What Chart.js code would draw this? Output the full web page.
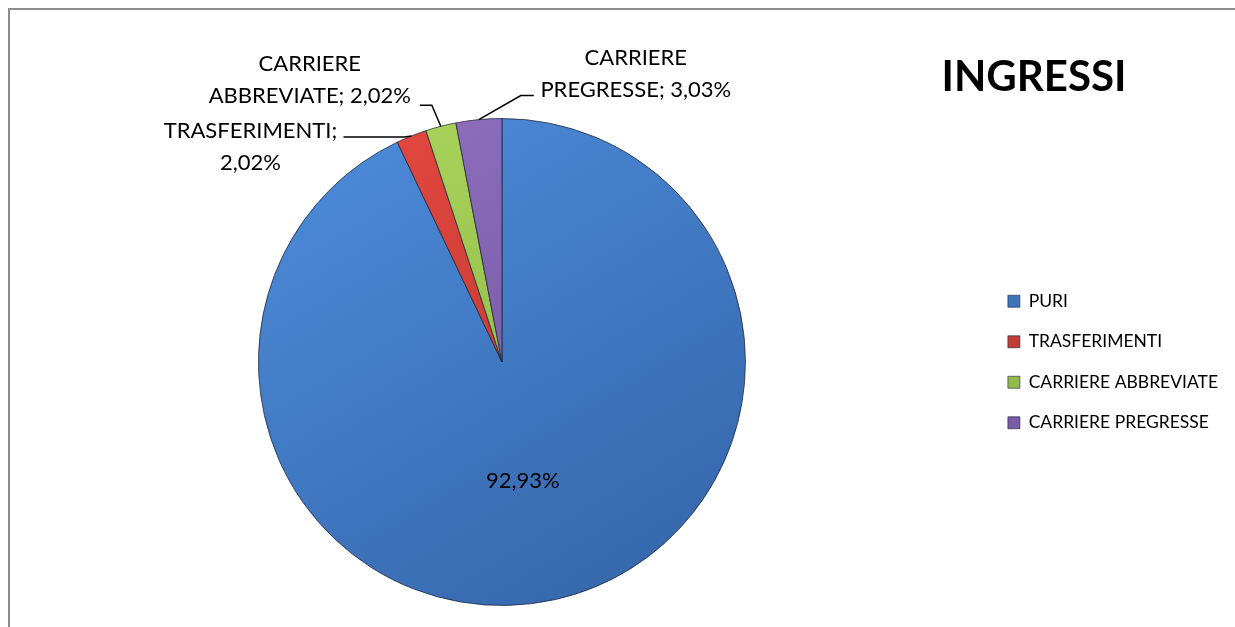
<!DOCTYPE html>
<html>
<head>
<meta charset="utf-8">
<script src="https://cdn.jsdelivr.net/npm/chart.js@4.4.1/dist/chart.umd.min.js"></script>
<style>
  html, body { margin: 0; padding: 0; background: #fff; overflow: hidden; }
  #chartBox { position: absolute; left: 0; top: 0; width: 1235px; height: 627px; }
</style>
</head>
<body>
<div id="chartBox"><canvas id="ingressiChart" width="1235" height="627"></canvas></div>
<script>
// data
const categories = ['PURI', 'TRASFERIMENTI', 'CARRIERE ABBREVIATE', 'CARRIERE PREGRESSE'];
const percentages = [92.93, 2.02, 2.02, 3.03];
const titleText = 'INGRESSI';

// styling (light / dark end of each slice gradient)
const sliceColors = [
  ['#4c8ad8', '#3566ab'],
  ['#e4483f', '#b3342e'],
  ['#aad55c', '#86ad3f'],
  ['#9070bf', '#6c4e95']
];
const legendColors = ['#3f74b9', '#c03c36', '#92bb4b', '#7a5ca6'];

// callout offsets, relative to the outer middle point of each slice
const calloutLayout = [
  null,
  { elbow: [-7, 1], endX: -68, text: [-161, -5.5] },
  { elbow: [-9, -21], endX: -21, text: [-131, -62] },
  { elbow: [42, -24], endX: 55, text: [157, -61.6] }
];
const labelLineGap = 32;

function fmtPct(v) {
  return v.toFixed(2).replace('.', ',') + '%';
}

function sliceFill(c) {
  const chart = c.chart;
  const area = chart.chartArea;
  const pair = sliceColors[c.dataIndex];
  if (!area) return pair[0];
  const cx = (area.left + area.right) / 2;
  const cy = (area.top + area.bottom) / 2;
  const r = Math.min(area.right - area.left, area.bottom - area.top) / 2;
  const g = chart.ctx.createLinearGradient(cx - r * 0.6, cy - r, cx + r * 0.6, cy + r);
  g.addColorStop(0, pair[0]);
  g.addColorStop(1, pair[1]);
  return g;
}

const framePlugin = {
  id: 'frame',
  beforeDraw(chart) {
    const { ctx, width, height } = chart;
    ctx.save();
    ctx.fillStyle = '#8c8c8c';
    ctx.fillRect(8, 8, width - 8, 2);
    ctx.fillRect(8, 8, 2, height - 8);
    ctx.restore();
  },
  afterDraw(chart) {
    const { ctx } = chart;
    ctx.save();
    ctx.font = 'bold 42px Lato';
    ctx.fillStyle = '#000';
    ctx.textAlign = 'center';
    ctx.textBaseline = 'middle';
    ctx.fillText(titleText, 1034, 77);
    ctx.restore();
  }
};

const calloutPlugin = {
  id: 'callouts',
  afterDatasetsDraw(chart) {
    const { ctx } = chart;
    const meta = chart.getDatasetMeta(0);
    ctx.save();
    ctx.font = '22px Lato';
    ctx.fillStyle = '#000';
    ctx.strokeStyle = '#000';
    ctx.lineWidth = 1.5;
    ctx.textAlign = 'center';
    ctx.textBaseline = 'middle';
    meta.data.forEach((arc, i) => {
      const { x, y, startAngle, endAngle, outerRadius } =
        arc.getProps(['x', 'y', 'startAngle', 'endAngle', 'outerRadius'], true);
      const mid = (startAngle + endAngle) / 2;
      const layout = calloutLayout[i];
      if (!layout) {
        ctx.fillText(fmtPct(percentages[i]),
          x + Math.cos(mid) * outerRadius * 0.5 - 6,
          y + Math.sin(mid) * outerRadius * 0.5);
        return;
      }
      const ax = x + Math.cos(mid) * outerRadius;
      const ay = y + Math.sin(mid) * outerRadius;
      const ex = ax + layout.elbow[0];
      const ey = ay + layout.elbow[1];
      ctx.beginPath();
      ctx.moveTo(ax, ay);
      ctx.lineTo(ex, ey);
      ctx.lineTo(ax + layout.endX, ey);
      ctx.stroke();
      const words = (categories[i] + '; ' + fmtPct(percentages[i])).split(' ');
      const lines = [words[0], words.slice(1).join(' ')];
      lines.forEach((ln, k) => {
        ctx.fillText(ln, ax + layout.text[0], ay + layout.text[1] + k * labelLineGap);
      });
    });
    ctx.restore();
  }
};

const ctx = document.getElementById('ingressiChart').getContext('2d');
new Chart(ctx, {
  type: 'pie',
  data: {
    labels: categories,
    datasets: [{
      data: percentages,
      backgroundColor: sliceFill,
      borderColor: 'rgba(25, 35, 55, 0.75)',
      borderWidth: 1
    }]
  },
  options: {
    responsive: false,
    animation: false,
    layout: { padding: { left: 19, right: 7, top: 118, bottom: 21 } },
    plugins: {
      tooltip: { enabled: false },
      legend: {
        position: 'right',
        labels: {
          boxWidth: 12,
          boxHeight: 12,
          padding: 23,
          color: '#000',
          font: { family: 'Lato', size: 17.5 },
          generateLabels(chart) {
            return categories.map((name, i) => ({
              text: name,
              fillStyle: legendColors[i],
              strokeStyle: 'rgba(25, 35, 55, 0.6)',
              lineWidth: 1,
              hidden: false,
              index: i
            }));
          }
        }
      }
    }
  },
  plugins: [framePlugin, calloutPlugin]
});
</script>
</body>
</html>
